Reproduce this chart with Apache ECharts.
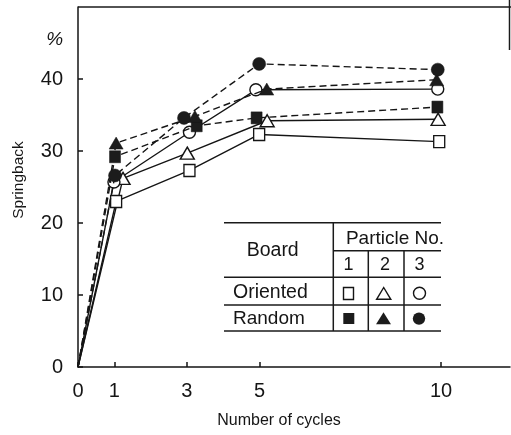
<!DOCTYPE html>
<html><head><meta charset="utf-8">
<script src="https://cdn.jsdelivr.net/npm/echarts@6/dist/echarts.min.js"></script>
<style>html,body{margin:0;padding:0;background:#fff}#c{width:511px;height:435px}</style>
</head><body><div id="c"></div>
<script>
// Tick labels
const xTicks = [0, 1, 3, 5, 10];
const yTicks = [0, 10, 20, 30, 40];

// Oriented board (open markers, solid lines): number of cycles (as plotted) and springback %
const oriented1X = [0, 1.05, 3.07, 4.99, 9.95];
const oriented1Y = [0, 23.0, 27.3, 32.3, 31.3];
const oriented2X = [0, 1.24, 3.01, 5.21, 9.92];
const oriented2Y = [0, 26.2, 29.7, 34.2, 34.4];
const oriented3X = [0, 0.99, 3.07, 4.90, 9.91];
const oriented3Y = [0, 25.7, 32.6, 38.5, 38.6];

// Random board (filled markers, dashed lines)
const random1X = [0, 1.02, 3.27, 4.92, 9.90];
const random1Y = [0, 29.2, 33.5, 34.6, 36.1];
const random2X = [0, 1.05, 3.22, 5.20, 9.88];
const random2Y = [0, 31.1, 34.8, 38.6, 39.9];
const random3X = [0, 1.02, 2.92, 4.99, 9.91];
const random3Y = [0, 26.6, 34.6, 42.1, 41.3];

const FONT = '"Liberation Sans", Arial, sans-serif';
const INK = '#151515';

function pts(xs, ys) {
  return xs.map((x, i) => i === 0 ? { value: [x, ys[i]], symbol: 'none' } : [x, ys[i]]);
}
function mkSeries(name, xs, ys, symbol, size, filled, dashed) {
  return {
    name, type: 'line', data: pts(xs, ys), symbol, symbolSize: size,
    showAllSymbol: true, z: filled ? 4 : 3,
    lineStyle: { color: INK, width: 1.4, type: dashed ? [7, 4] : 'solid' },
    itemStyle: { color: filled ? '#1c1c1c' : '#fff', borderColor: INK, borderWidth: filled ? 0.5 : 1.4 },
    emphasis: { disabled: true }, animation: false
  };
}

const lineC = '#1a1a1a';
function hline(x1, x2, y) { return { type: 'line', shape: { x1, y1: y, x2, y2: y }, style: { stroke: lineC, lineWidth: 1.5 } }; }
function vline(x, y1, y2) { return { type: 'line', shape: { x1: x, y1, x2: x, y2 }, style: { stroke: lineC, lineWidth: 1.5 } }; }
function txt(text, x, y, size, align, rot, style) {
  return { type: 'text', x, y, rotation: rot || 0, style: { text, font: (style ? style + ' ' : '') + size + 'px ' + FONT, fill: INK,
    textAlign: align || 'center', textVerticalAlign: 'middle', align: align || 'center', verticalAlign: 'middle' } };
}

const graphics = [
  hline(78, 511, 7),
  vline(509.5, 0, 50),
  // legend table
  hline(224, 441, 222.7), hline(333, 441, 250.7), hline(224, 441, 277.3), hline(224, 441, 305), hline(224, 441, 331),
  vline(333.3, 222.7, 331), vline(368.3, 250.7, 331), vline(404, 250.7, 331),
  txt('Board', 272.7, 250.5, 19.5),
  txt('Particle No.', 395, 238.5, 19),
  txt('1', 348.5, 265, 18), txt('2', 385, 265, 18), txt('3', 419.5, 265, 18),
  txt('Oriented', 233, 292.7, 19.5, 'left'),
  txt('Random', 233, 318.3, 19, 'left'),
  { type: 'rect', shape: { x: 343.5, y: 287.5, width: 10, height: 12 }, style: { fill: '#fff', stroke: INK, lineWidth: 1.4 } },
  { type: 'polygon', shape: { points: [[383.7, 287.5], [390.8, 299.3], [376.6, 299.3]] }, style: { fill: '#fff', stroke: INK, lineWidth: 1.4 } },
  { type: 'circle', shape: { cx: 419.5, cy: 293.3, r: 6 }, style: { fill: '#fff', stroke: INK, lineWidth: 1.4 } },
  { type: 'rect', shape: { x: 343.3, y: 313, width: 11, height: 11 }, style: { fill: '#1c1c1c' } },
  { type: 'polygon', shape: { points: [[383.5, 312.3], [391, 324.3], [376, 324.3]] }, style: { fill: '#1c1c1c' } },
  { type: 'circle', shape: { cx: 419, cy: 318.6, r: 6.2 }, style: { fill: '#1c1c1c' } },
  // axis titles
  txt('%', 54.7, 39.5, 19, 'center', 0, 'italic'),
  txt('Springback', 19, 180, 15.5, 'center', Math.PI / 2),
  txt('Number of cycles', 279, 421, 16)
];

const chart = echarts.init(document.getElementById('c'), null, { renderer: 'canvas' });
chart.setOption({
  animation: false,
  backgroundColor: '#fff',
  grid: { left: 78, right: 1, top: 7, bottom: 68, containLabel: false },
  xAxis: {
    type: 'value', min: 0, max: 11.9,
    axisLine: { show: true, onZero: false, lineStyle: { color: INK, width: 1.5 } },
    axisTick: { show: true, inside: true, length: 5, customValues: xTicks, lineStyle: { color: INK, width: 1.5 } },
    axisLabel: { customValues: xTicks, margin: 14, fontSize: 20, fontFamily: FONT, color: INK },
    splitLine: { show: false }
  },
  yAxis: {
    type: 'value', min: 0, max: 50,
    axisLine: { show: true, onZero: false, lineStyle: { color: INK, width: 1.5 } },
    axisTick: { show: true, inside: true, length: 5, customValues: yTicks, lineStyle: { color: INK, width: 1.5 } },
    axisLabel: { customValues: yTicks, margin: 15, fontSize: 20, fontFamily: FONT, color: INK },
    splitLine: { show: false }
  },
  series: [
    mkSeries('Oriented 1', oriented1X, oriented1Y, 'rect', [11, 12], false, false),
    mkSeries('Oriented 2', oriented2X, oriented2Y, 'triangle', [14, 12], false, false),
    mkSeries('Oriented 3', oriented3X, oriented3Y, 'circle', 12, false, false),
    mkSeries('Random 1', random1X, random1Y, 'rect', [11, 12], true, true),
    mkSeries('Random 2', random2X, random2Y, 'triangle', [14, 12], true, true),
    mkSeries('Random 3', random3X, random3Y, 'circle', 13, true, true)
  ],
  graphic: { elements: graphics }
});
</script>
</body></html>
